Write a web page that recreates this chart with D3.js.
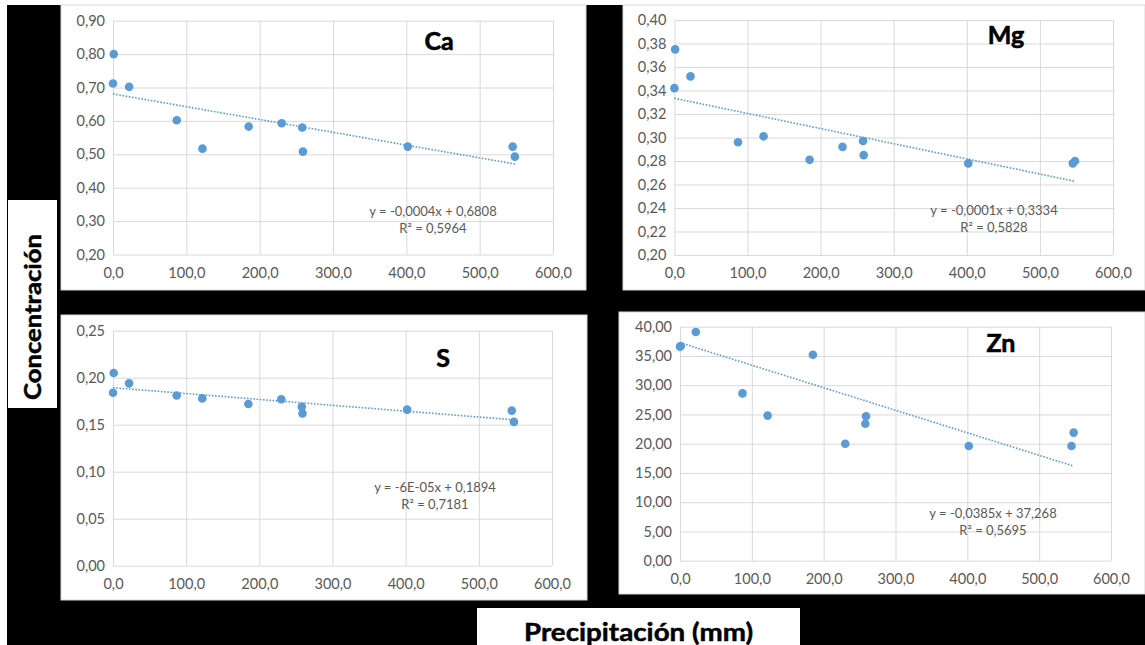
<!DOCTYPE html>
<html>
<head>
<meta charset="utf-8">
<script src="https://cdn.jsdelivr.net/npm/d3@7"></script>
<style>
  html, body { margin: 0; padding: 0; background: #ffffff; }
  svg { display: block; }
  .tick text { font-family: Lato, "Open Sans", sans-serif; font-size: 14.5px; fill: #595959; }
</style>
</head>
<body>
<svg id="chart" width="1145" height="645"></svg>
<script>
// ---------------- DATA ----------------
const elements = ["Ca", "Mg", "S", "Zn"];
const precipitation = [1, 0, 22, 87, 122, 185, 230, 258, 259, 402, 545, 548];
const caValues = [0.800, 0.712, 0.702, 0.602, 0.517, 0.583, 0.593, 0.580, 0.508, 0.523, 0.523, 0.493];
const mgValues = [0.375, 0.342, 0.352, 0.296, 0.301, 0.281, 0.292, 0.297, 0.285, 0.278, 0.278, 0.280];
const sValues  = [0.205, 0.184, 0.194, 0.181, 0.178, 0.172, 0.177, 0.169, 0.162, 0.166, 0.165, 0.153];
const znValues = [36.7, 36.6, 39.1, 28.6, 24.8, 35.2, 20.0, 23.4, 24.7, 19.6, 19.6, 21.9];

const xTicks = [0, 100, 200, 300, 400, 500, 600];
const caTicks = [0.20, 0.30, 0.40, 0.50, 0.60, 0.70, 0.80, 0.90];
const mgTicks = [0.20, 0.22, 0.24, 0.26, 0.28, 0.30, 0.32, 0.34, 0.36, 0.38, 0.40];
const sTicks  = [0.00, 0.05, 0.10, 0.15, 0.20, 0.25];
const znTicks = [0, 5, 10, 15, 20, 25, 30, 35, 40];

const trendIntercepts = [0.6808, 0.3334, 0.1894, 37.268];
const trendSlopes = [-0.000383, -0.000129, -0.0000625, -0.0385];
const equationLabels = ["y = -0,0004x + 0,6808", "y = -0,0001x + 0,3334", "y = -6E-05x + 0,1894", "y = -0,0385x + 37,268"];
const r2Labels = ["R² = 0,5964", "R² = 0,5828", "R² = 0,7181", "R² = 0,5695"];

const yAxisTitle = "Concentración";
const xAxisTitle = "Precipitación (mm)";

// ---------------- LAYOUT ----------------
const seriesValues = [caValues, mgValues, sValues, znValues];
const seriesTicks = [caTicks, mgTicks, sTicks, znTicks];
const panels = [
  { box: [61, 5, 586, 290],   plot: [113, 20.7, 553, 254.5], title: [439, 40],  eq: [433, 211] },
  { box: [623, 5, 1145, 290], plot: [674.4, 20, 1113, 255],  title: [1006, 34], eq: [994, 210] },
  { box: [61, 315, 587, 600], plot: [113, 330.7, 552, 565.7], title: [443, 357], eq: [435, 487] },
  { box: [619, 312, 1145, 594], plot: [680, 326.7, 1111, 560.7], title: [1001, 342], eq: [993, 513] }
];

const svg = d3.select("#chart");
const blue = "#5B9BD5";
const fmt = (d, dec) => d3.format("." + dec + "f")(d).replace(".", ",");

// black background frame
svg.append("rect").attr("x", 7).attr("y", 5).attr("width", 1138).attr("height", 640).attr("fill", "#000");

panels.forEach((p, i) => {
  const [bx0, by0, bx1, by1] = p.box;
  svg.append("rect").attr("x", bx0).attr("y", by0).attr("width", bx1 - bx0).attr("height", by1 - by0)
    .attr("fill", "#fff").attr("stroke", "#D9D9D9").attr("stroke-width", 1);

  const [px0, py0, px1, py1] = p.plot;
  const ticks = seriesTicks[i];
  const x = d3.scaleLinear().domain([0, 600]).range([px0, px1]);
  const y = d3.scaleLinear().domain([ticks[0], ticks[ticks.length - 1]]).range([py1, py0]);

  const g = svg.append("g");

  const ya = g.append("g").attr("transform", `translate(${px0},0)`)
    .call(d3.axisLeft(y).tickValues(ticks).tickSize(-(px1 - px0)).tickPadding(8).tickFormat(d => fmt(d, 2)));
  ya.select(".domain").remove();
  ya.selectAll(".tick line").attr("stroke", "#D9D9D9");

  const xa = g.append("g").attr("transform", `translate(0,${py1})`)
    .call(d3.axisBottom(x).tickValues(xTicks).tickSize(-(py1 - py0)).tickPadding(13).tickFormat(d => fmt(d, 1)));
  xa.select(".domain").remove();
  xa.selectAll(".tick line").attr("stroke", "#D9D9D9");

  // linear trend line
  const xMax = d3.max(precipitation);
  const tl = [0, xMax].map(v => [v, trendIntercepts[i] + trendSlopes[i] * v]);
  g.append("path").datum(tl)
    .attr("d", d3.line().x(d => x(d[0])).y(d => y(d[1])))
    .attr("fill", "none").attr("stroke", blue).attr("stroke-width", 1.6).attr("stroke-dasharray", "1.6,1.6");

  g.selectAll("circle.pt").data(seriesValues[i].map((v, k) => [precipitation[k], v]))
    .join("circle").attr("class", "pt")
    .attr("cx", d => x(d[0])).attr("cy", d => y(d[1])).attr("r", 4.3).attr("fill", blue);

  g.append("text").attr("x", p.title[0]).attr("y", p.title[1]).attr("text-anchor", "middle")
    .attr("dominant-baseline", "central")
    .attr("font-family", "Lato, sans-serif").attr("font-weight", "bold").attr("font-size", 25)
    .attr("fill", "#000").attr("stroke", "#000").attr("stroke-width", 0.6).text(elements[i]);

  g.append("text").attr("x", p.eq[0]).attr("y", p.eq[1]).attr("text-anchor", "middle")
    .attr("dominant-baseline", "central")
    .attr("font-family", "Lato, sans-serif").attr("font-size", 13).attr("fill", "#595959")
    .text(equationLabels[i]);
  g.append("text").attr("x", p.eq[0]).attr("y", p.eq[1] + 17).attr("text-anchor", "middle")
    .attr("dominant-baseline", "central")
    .attr("font-family", "Lato, sans-serif").attr("font-size", 13).attr("fill", "#595959")
    .text(r2Labels[i]);
});

// Y axis title box
svg.append("rect").attr("x", 8).attr("y", 200).attr("width", 49).attr("height", 208).attr("fill", "#fff");
svg.append("text").attr("transform", "translate(32,317) rotate(-90)").attr("text-anchor", "middle")
  .attr("dominant-baseline", "central")
  .attr("font-family", "Lato, sans-serif").attr("font-weight", "bold").attr("font-size", 23)
  .attr("fill", "#000").attr("stroke", "#000").attr("stroke-width", 0.5)
  .attr("textLength", 166).attr("lengthAdjust", "spacingAndGlyphs")
  .text(yAxisTitle);

// X axis title box
svg.append("rect").attr("x", 477).attr("y", 608).attr("width", 323).attr("height", 40).attr("fill", "#fff");
svg.append("text").attr("x", 638.5).attr("y", 631).attr("text-anchor", "middle")
  .attr("dominant-baseline", "central")
  .attr("font-family", "Lato, sans-serif").attr("font-weight", "bold").attr("font-size", 25)
  .attr("fill", "#000").attr("stroke", "#000").attr("stroke-width", 0.5)
  .attr("textLength", 229).attr("lengthAdjust", "spacingAndGlyphs")
  .text(xAxisTitle);
</script>
</body>
</html>
